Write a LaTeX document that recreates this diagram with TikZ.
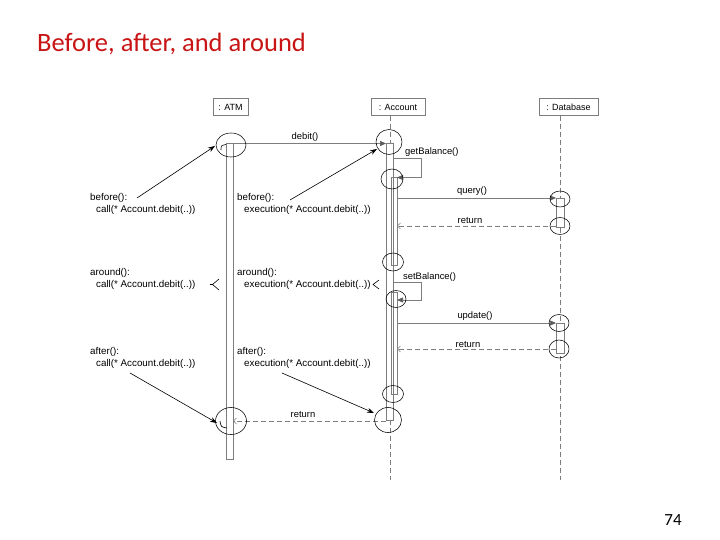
\documentclass[tikz,border=0pt]{standalone}
\usepackage{fontspec}
\setmainfont{Liberation Sans}
\newfontfamily\titlefont{Carlito}
\usetikzlibrary{arrows.meta,shapes.geometric}
\definecolor{titlered}{RGB}{200,20,20}
\definecolor{lg}{RGB}{125,125,125}
\definecolor{tipgray}{RGB}{90,90,90}
\begin{document}
\begin{tikzpicture}[x=1pt,y=-1pt,
  lbox/.style={draw=lg, line width=0.5pt, inner sep=0pt, minimum height=17pt, font=\fontsize{9}{10}\selectfont},
  lifeline/.style={draw=lg, line width=0.6pt, dash pattern=on 5pt off 3pt},
  bar/.style={draw=lg, line width=0.6pt, inner sep=0pt, outer sep=0pt, rectangle},
  dbbar/.style={bar, fill=white},
  msg/.style={draw=lg, line width=0.7pt, -{Triangle[length=6pt,width=5pt,fill=tipgray,color=tipgray]}},
  ret/.style={draw=lg, line width=0.7pt, dash pattern=on 5pt off 3pt, -{Straight Barb[length=3pt,width=6pt]}},
  jp/.style={draw=black, line width=0.55pt, ellipse, inner sep=0pt, outer sep=0pt},
  ann/.style={draw=black, line width=0.6pt, -{Stealth[length=7pt,width=5pt]}},
  anntext/.style={font=\fontsize{9.8}{12.3}\selectfont, anchor=north west, inner sep=0pt, align=left},
  lbl/.style={font=\fontsize{9.4}{10}\selectfont, inner sep=0pt},
  tick/.style={draw=black, line width=0.6pt}
]
\useasboundingbox (0,0) rectangle (720,540);

% title and page number
\node[anchor=base west, inner sep=0pt, text=titlered, font=\titlefont\fontsize{26.5}{30}\selectfont] (title) at (37,52) {Before, after, and around};
\node[anchor=base, inner sep=0pt, font=\titlefont\fontsize{17}{19}\selectfont] (pg) at (673,525) {74};

% lifeline heads
\node[lbox, minimum width=35pt] (atm) at (230.5,107) {: ATM};
\node[lbox, minimum width=54pt] (acc) at (398,107) {: Account};
\node[lbox, minimum width=59pt] (db) at (568.5,107) {: Database};

\coordinate (accL) at (390,480);
\coordinate (dbL) at (560.5,480);
\draw[lifeline] (acc.south -| accL) -- (accL);
\draw[lifeline] (db.south -| dbL) -- (dbL);

% activation bars
\node[bar, minimum width=7pt, minimum height=316pt] (atmbar) at (229.5,301) {};
\node[bar, fill=white, minimum width=7pt, minimum height=277pt] (outer) at (389.5,281.5) {};
\node[bar, minimum width=6pt, minimum height=88pt] (inner1) at (394,221) {};
\node[bar, minimum width=6pt, minimum height=102pt] (inner2) at (394,343) {};
\node[dbbar, minimum width=8pt, minimum height=29pt] (db1) at (560,212.5) {};
\node[dbbar, minimum width=8pt, minimum height=30pt] (db2) at (560,338) {};

% messages
\draw[msg] (atmbar.east |- 0,143.5) -- (outer.west |- 0,143.5);
\node[lbl] (mdebit) at (305,137) {debit()};
\draw[msg] (outer.east |- 0,158) -- (421,158) -- (421,177.5) -- (inner1.east |- 0,177.5);
\node[lbl, anchor=west] (mget) at (405,152) {getBalance()};
\draw[msg] (inner1.east |- 0,198) -- (db1.west |- 0,198);
\node[lbl] (mquery) at (472,191) {query()};
\draw[ret] (db1.west |- 0,226) -- (inner1.east |- 0,226);
\node[lbl] (mret1) at (470,221) {return};
\draw[msg] (outer.east |- 0,282) -- (421,282) -- (421,300) -- (inner2.east |- 0,300);
\node[lbl, anchor=west] (mset) at (403,277) {setBalance()};
\draw[msg] (inner2.east |- 0,323) -- (db2.west |- 0,323);
\node[lbl] (mupd) at (475,316) {update()};
\draw[ret] (db2.west |- 0,349) -- (inner2.east |- 0,349);
\node[lbl] (mret2) at (468,345) {return};
\draw[ret] (outer.west |- 0,421) -- (atmbar.east |- 0,421);
\node[lbl] (mret3) at (303,415) {return};

% join point circles
\node[jp, minimum width=30pt, minimum height=24pt] (c1) at (231,145) {};
\node[jp, minimum width=26pt, minimum height=25pt] (c2) at (389,142) {};
\node[jp, minimum width=22pt, minimum height=20pt] (c3) at (392,179) {};
\node[jp, minimum width=20pt, minimum height=16pt] (c4) at (560,199) {};
\node[jp, minimum width=20pt, minimum height=17pt] (c5) at (560,226) {};
\node[jp, minimum width=21pt, minimum height=18pt] (c6) at (393,262) {};
\node[jp, minimum width=20pt, minimum height=17pt] (c7) at (396,299) {};
\node[jp, minimum width=20pt, minimum height=17pt] (c8) at (559,323) {};
\node[jp, minimum width=20pt, minimum height=18pt] (c9) at (559,349) {};
\node[jp, minimum width=21pt, minimum height=17pt] (c10) at (393,394) {};
\node[jp, minimum width=27pt, minimum height=25pt] (c11) at (388,420) {};
\node[jp, minimum width=31pt, minimum height=27pt] (c12) at (231,421) {};

% small marks inside ATM circles
\draw[tick] (221,150) .. controls (221,145.5) .. (226,144.5);
\draw[tick] (220,421) .. controls (221,427) .. (227,428);

% annotations
\node[anntext] (t1) at (90,193) {before():\\\hspace*{6pt}call(* Account.debit(..))};
\node[anntext] (t2) at (237,193) {before():\\\hspace*{7pt}execution(* Account.debit(..))};
\node[anntext] (t3) at (90,268) {around():\\\hspace*{6pt}call(* Account.debit(..))};
\node[anntext] (t4) at (237,268) {around():\\\hspace*{7pt}execution(* Account.debit(..))};
\node[anntext] (t5) at (90,347) {after():\\\hspace*{6pt}call(* Account.debit(..))};
\node[anntext] (t6) at (237,347) {after():\\\hspace*{7pt}execution(* Account.debit(..))};

\coordinate (s1) at (137,198);  \coordinate (e1) at (215,146);
\coordinate (s2) at (290,200);  \coordinate (e2) at (377,149);
\coordinate (s3) at (130,373);  \coordinate (e3) at (217,423);
\coordinate (s4) at (282,373);  \coordinate (e4) at (374,413);
\draw[ann] (s1) -- (e1);
\draw[ann] (s2) -- (e2);
\draw[ann] (s3) -- (e3);
\draw[ann] (s4) -- (e4);

% around marks
\draw[tick] (219,279) -- (212.5,284.5) -- (219,290);
\draw[tick] (209.5,284.5) -- (212.5,284.5);
\draw[tick] (379,280) -- (373,284.5) -- (379,289);
\end{tikzpicture}
\end{document}
